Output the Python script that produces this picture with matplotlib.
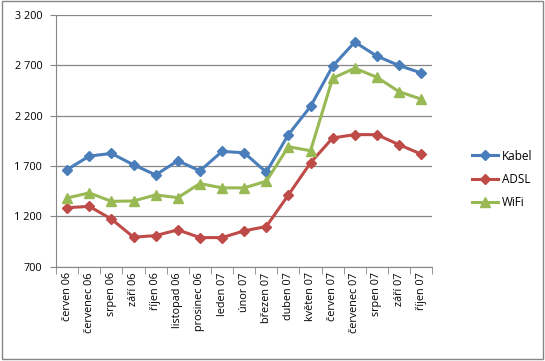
import matplotlib.pyplot as plt
from matplotlib.patches import Rectangle
from matplotlib.ticker import FuncFormatter, FixedLocator, NullFormatter

months = ["červen 06", "červenec 06", "srpen 06", "září 06", "říjen 06",
          "listopad 06", "prosinec 06", "leden 07", "únor 07", "březen 07",
          "duben 07", "květen 07", "červen 07", "červenec 07", "srpen 07",
          "září 07", "říjen 07"]

kabel = [1666, 1800, 1826, 1713, 1613, 1753, 1653, 1846, 1833, 1640,
         2013, 2293, 2693, 2933, 2793, 2700, 2626]
adsl = [1287, 1300, 1174, 994, 1010, 1067, 990, 990, 1057, 1100,
        1414, 1733, 1980, 2013, 2013, 1913, 1820]
wifi = [1384, 1434, 1350, 1354, 1414, 1387, 1527, 1484, 1484, 1550,
        1893, 1853, 2573, 2673, 2583, 2440, 2366]
y_ticks = [700, 1200, 1700, 2200, 2700, 3200]

plt.rcParams['font.family'] = ['Open Sans', 'DejaVu Sans']

fig = plt.figure(figsize=(5.45, 3.61), dpi=100)
ax = fig.add_axes([0.103, 0.261, 0.690, 0.697])

x = range(len(months))
ax.plot(x, kabel, color="#4A7EBB", lw=2.2, marker="D", markersize=5, label="Kabel")
ax.plot(x, adsl, color="#BE4B48", lw=2.2, marker="D", markersize=5, label="ADSL")
ax.plot(x, wifi, color="#98B954", lw=2.2, marker="^", markersize=7, label="WiFi")

ax.set_xlim(-0.5, len(months) - 0.5)
ax.set_ylim(y_ticks[0], y_ticks[-1])
ax.yaxis.set_major_locator(FixedLocator(y_ticks))
ax.yaxis.set_major_formatter(FuncFormatter(lambda v, p: f"{int(v):,}".replace(",", " ")))
ax.grid(axis="y", color="#868686", lw=0.9)
ax.set_axisbelow(True)

ax.set_xticks(list(x))
ax.set_xticklabels(months, rotation=90, fontsize=7.8)
ax.tick_params(axis="x", length=0, pad=4)
ax.xaxis.set_minor_locator(FixedLocator([i - 0.5 for i in range(len(months) + 1)]))
ax.xaxis.set_minor_formatter(NullFormatter())
ax.tick_params(axis="x", which="minor", length=5, color="#868686")
ax.tick_params(axis="y", labelsize=7.8, length=4, pad=6, color="#868686")

for side in ["top", "right"]:
    ax.spines[side].set_visible(False)
for side in ["left", "bottom"]:
    ax.spines[side].set_color("#868686")

fig.legend(loc="upper left", bbox_to_anchor=(0.847, 0.615), frameon=False,
           fontsize=8.5, handlelength=2.2, handletextpad=0.3, labelspacing=0.85)

fig.patches.append(Rectangle((0.004, 0.006), 0.992, 0.99, transform=fig.transFigure,
                             fill=False, edgecolor="#868686", lw=1))

fig.savefig("out.png", dpi=100)
